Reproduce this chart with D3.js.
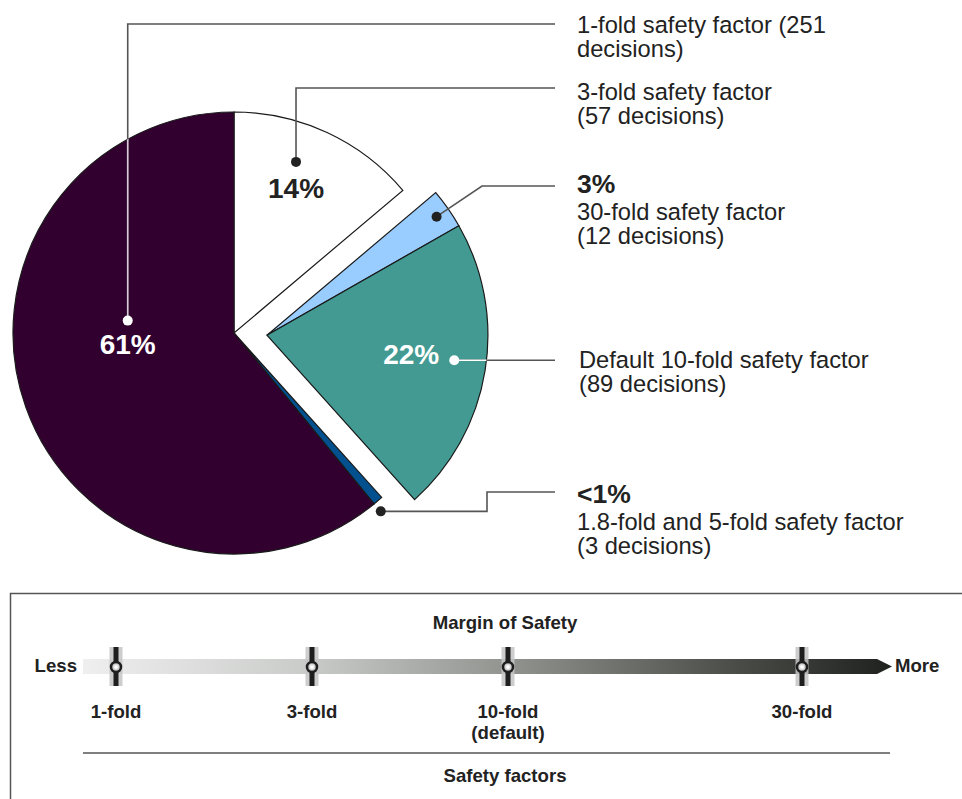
<!DOCTYPE html>
<html>
<head>
<meta charset="utf-8">
<script src="https://cdn.jsdelivr.net/npm/d3@7"></script>
<style>
  body { margin: 0; background: #fff; }
  svg { display: block; font-family: "Liberation Sans", Arial, sans-serif; }
</style>
</head>
<body>
<svg id="chart" width="962" height="799"></svg>
<script>
// slices, clockwise from 12 o'clock
var sliceNames = ['3-fold', '30-fold', '10-fold', '1.8-fold and 5-fold', '1-fold'];
var decisions = [57, 12, 89, 3, 251];
var pctLabels = ['14%', '3%', '22%', '<1%', '61%'];
var sliceColors = ['#ffffff', '#99ccff', '#429a92', '#03508f', '#31002f'];
var exploded = [false, true, true, false, false];
var descLines = [
    ['3-fold safety factor', '(57 decisions)'],
    ['30-fold safety factor', '(12 decisions)'],
    ['Default 10-fold safety factor', '(89 decisions)'],
    ['1.8-fold and 5-fold safety factor', '(3 decisions)'],
    ['1-fold safety factor (251', 'decisions)']
];

// margin of safety scale
var factorLabels = ['1-fold', '3-fold', '10-fold', '30-fold'];
var factorSub = ['', '', '(default)', ''];
var factorRank = [0, 1, 2, 3.5];

function main() {
    const svg = d3.select('#chart');
    const cx = 234, cy = 333, radius = 221, explodeDist = 33;
    const lineColor = '#555';
    const textColor = '#222';

    const pie = d3.pie().sort(null).value(d => d);
    const arcs = pie(decisions);
    const arc = d3.arc().innerRadius(0).outerRadius(radius);

    // offset for the pulled-out group
    const grp = arcs.filter((d, i) => exploded[i]);
    const midA = (grp[0].startAngle + grp[grp.length - 1].endAngle) / 2;
    const offX = Math.sin(midA) * explodeDist, offY = -Math.cos(midA) * explodeDist;
    const centerOf = i => exploded[i] ? [cx + offX, cy + offY] : [cx, cy];

    // callout layout: dot position (fraction of slice angle, radius),
    // elbow of the leader, and text baselines
    const callouts = [
        {af: 0.4, r: 182, route: 'up', ly: 88, lines: [100, 124]},
        {af: 0.5, r: 207, route: 'diag', ly: 186, elbowX: 482, pct: 193, lines: [220, 244]},
        {af: 0.48, r: 189, route: 'flat', inside: true, lines: [368, 392], tx: 579},
        {af: 0.95, r: 231, route: 'step', ly: 492, elbowX: 487, pct: 503, lines: [530, 554]},
        {af: 0.62, r: 107, route: 'up', ly: 24, inside: true, lines: [33, 57]}
    ];

    const defs = svg.append('defs');

    arcs.forEach((d, i) => {
        const c = centerOf(i);
        defs.append('clipPath').attr('id', 'clip' + i)
            .append('path')
            .attr('transform', `translate(${c[0]},${c[1]})`)
            .attr('d', arc(d));
    });

    svg.append('g').selectAll('path')
        .data(arcs)
        .join('path')
        .attr('transform', (d, i) => `translate(${centerOf(i)[0]},${centerOf(i)[1]})`)
        .attr('d', arc)
        .attr('fill', (d, i) => sliceColors[i])
        .attr('stroke', '#1a1a1a')
        .attr('stroke-width', 1.2);

    const lineEnd = 555;
    const textX = 577;

    arcs.forEach((d, i) => {
        const co = callouts[i];
        const c = centerOf(i);
        const a = d.startAngle + (d.endAngle - d.startAngle) * co.af;
        const px = c[0] + Math.sin(a) * co.r;
        const py = c[1] - Math.cos(a) * co.r;

        let pts;
        if (co.route == 'up') pts = [[px, py], [px, co.ly], [lineEnd, co.ly]];
        else if (co.route == 'diag') pts = [[px, py], [co.elbowX, co.ly], [lineEnd, co.ly]];
        else if (co.route == 'step') pts = [[px, py], [co.elbowX, py], [co.elbowX, co.ly], [lineEnd, co.ly]];
        else pts = [[px, py], [lineEnd, py]];

        const line = d3.line();
        svg.append('path')
            .attr('d', line(pts))
            .attr('fill', 'none')
            .attr('stroke', lineColor)
            .attr('stroke-width', 1.6);

        if (co.inside) {
            // lighter part of the leader over the dark slice
            svg.append('path')
                .attr('d', line(pts))
                .attr('clip-path', `url(#clip${i})`)
                .attr('fill', 'none')
                .attr('stroke', i == 4 ? '#d9cbd9' : '#ffffff')
                .attr('stroke-width', 1.6);
        }

        svg.append('circle')
            .attr('cx', px).attr('cy', py).attr('r', 5)
            .attr('fill', co.inside ? '#ffffff' : textColor);

        // percent labels
        if (co.route == 'up') {
            svg.append('text')
                .attr('x', px).attr('y', py + (co.inside ? 33 : 36))
                .attr('text-anchor', 'middle')
                .attr('font-weight', 'bold').attr('font-size', 28)
                .attr('fill', co.inside ? '#ffffff' : textColor)
                .text(pctLabels[i]);
        } else if (co.route == 'flat') {
            svg.append('text')
                .attr('x', px - 15).attr('y', py + 4)
                .attr('text-anchor', 'end')
                .attr('font-weight', 'bold').attr('font-size', 28)
                .attr('fill', '#ffffff')
                .text(pctLabels[i]);
        } else {
            svg.append('text')
                .attr('x', textX).attr('y', co.pct)
                .attr('font-weight', 'bold').attr('font-size', 26.5)
                .attr('fill', textColor)
                .text(pctLabels[i]);
        }

        descLines[i].forEach((t, k) => {
            svg.append('text')
                .attr('x', co.tx || textX).attr('y', co.lines[k])
                .attr('font-size', 23.7)
                .attr('fill', textColor)
                .text(t);
        });
    });

    // ---------- margin of safety legend ----------
    const fs = 18.6;
    const lg = svg.append('g');
    lg.append('rect')
        .attr('x', 10.5).attr('y', 593.5)
        .attr('width', 1000).attr('height', 300)
        .attr('fill', 'none')
        .attr('stroke', lineColor).attr('stroke-width', 1.5);

    const x = d3.scaleLinear().domain([0, 3.5]).range([116, 802]);
    const barL = 83, barR = 877, tipX = 892, barY = 659, barH = 15;

    const grad = defs.append('linearGradient').attr('id', 'barGrad')
        .attr('gradientUnits', 'userSpaceOnUse')
        .attr('x1', barL).attr('x2', tipX).attr('y1', 0).attr('y2', 0);
    [[0, '#efefef'], [0.28, '#c9cbc9'], [0.54, '#8e908c'], [0.8, '#4c4e4a'], [1, '#1f211e']]
        .forEach(s => grad.append('stop').attr('offset', s[0]).attr('stop-color', s[1]));

    const mk = defs.append('radialGradient').attr('id', 'mkGrad');
    mk.append('stop').attr('offset', 0.2).attr('stop-color', '#ffffff');
    mk.append('stop').attr('offset', 1).attr('stop-color', '#9a9a9a');

    lg.append('path')
        .attr('d', `M${barL},${barY}H${barR}L${tipX},${barY + barH / 2}L${barR},${barY + barH}H${barL}Z`)
        .attr('fill', 'url(#barGrad)');

    lg.append('text').attr('x', 505).attr('y', 629)
        .attr('text-anchor', 'middle').attr('font-weight', 'bold').attr('font-size', fs)
        .attr('fill', textColor).text('Margin of Safety');
    lg.append('text').attr('x', barL - 6).attr('y', 672)
        .attr('text-anchor', 'end').attr('font-weight', 'bold').attr('font-size', fs)
        .attr('fill', textColor).text('Less');
    lg.append('text').attr('x', tipX + 3).attr('y', 672)
        .attr('font-weight', 'bold').attr('font-size', fs)
        .attr('fill', textColor).text('More');

    const marks = lg.selectAll('g.mark')
        .data(factorRank)
        .join('g')
        .attr('class', 'mark')
        .attr('transform', d => `translate(${x(d)},0)`);
    marks.append('rect')
        .attr('x', -6.5).attr('y', 647).attr('width', 13).attr('height', 39)
        .attr('fill', '#c4c4c4').attr('opacity', 0.85);
    marks.append('rect')
        .attr('x', -2.5).attr('y', 647).attr('width', 5).attr('height', 39)
        .attr('fill', '#1e1e1e');
    marks.append('circle')
        .attr('cy', 667).attr('r', 5)
        .attr('fill', 'url(#mkGrad)')
        .attr('stroke', '#1e1e1e').attr('stroke-width', 2.5);
    marks.append('text')
        .attr('y', 718).attr('text-anchor', 'middle')
        .attr('font-weight', 'bold').attr('font-size', fs)
        .attr('fill', textColor)
        .text((d, i) => factorLabels[i]);
    marks.append('text')
        .attr('y', 739).attr('text-anchor', 'middle')
        .attr('font-weight', 'bold').attr('font-size', fs)
        .attr('fill', textColor)
        .text((d, i) => factorSub[i]);

    lg.append('line')
        .attr('x1', barL).attr('x2', tipX - 2)
        .attr('y1', 753).attr('y2', 753)
        .attr('stroke', lineColor).attr('stroke-width', 1.5);
    lg.append('text').attr('x', 505).attr('y', 782)
        .attr('text-anchor', 'middle').attr('font-weight', 'bold').attr('font-size', fs)
        .attr('fill', textColor).text('Safety factors');
}
main();
</script>
</body>
</html>
